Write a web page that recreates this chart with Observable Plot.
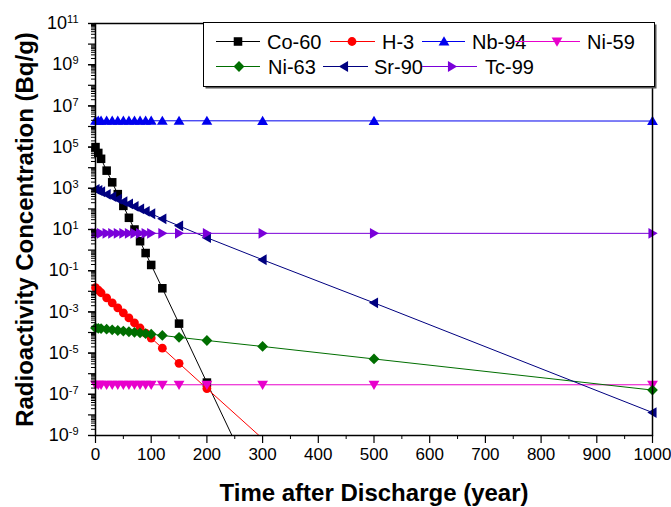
<!DOCTYPE html>
<html><head><meta charset="utf-8">
<script src="https://cdn.jsdelivr.net/npm/d3@7"></script>
<script src="https://cdn.jsdelivr.net/npm/@observablehq/plot@0.6"></script>
<style>
body{margin:0;background:#fff;}
#wrap{position:relative;width:671px;height:507px;}
#wrap svg{position:absolute;left:0;top:0;}
</style></head><body><div id="wrap"></div>
<script>
// ---- data ----
const years = [0,5,10,20,30,40,50,60,70,80,90,100,120,150,200,300,500,1000];
const co60 = [1e5,5.2e4,2.7e4,7.2e3,1.95e3,5.2e2,1.4e2,37,10,2.7,0.72,0.19,0.014,2.7e-4,3.7e-7,7.4e-13,null,null];
const h3   = [0.015,0.0113,0.0085,4.8e-3,2.75e-3,1.57e-3,9.0e-4,5.1e-4,2.9e-4,1.65e-4,9.4e-5,5.4e-5,1.74e-5,3.2e-6,1.9e-7,7.0e-10,null,null];
const nb94 = [1.9e6,1.9e6,1.9e6,1.9e6,1.9e6,1.9e6,1.9e6,1.9e6,1.9e6,1.9e6,1.9e6,1.9e6,1.89e6,1.89e6,1.89e6,1.88e6,1.87e6,1.84e6];
const ni59 = [2.9e-7,2.9e-7,2.9e-7,2.9e-7,2.9e-7,2.9e-7,2.9e-7,2.9e-7,2.9e-7,2.9e-7,2.9e-7,2.9e-7,2.9e-7,2.9e-7,2.9e-7,2.9e-7,2.9e-7,2.9e-7];
const ni63 = [1.65e-4,1.6e-4,1.55e-4,1.45e-4,1.35e-4,1.25e-4,1.17e-4,1.09e-4,1.02e-4,9.5e-5,8.9e-5,8.3e-5,7.2e-5,5.8e-5,4.1e-5,2.1e-5,5.2e-6,1.6e-7];
const sr90 = [890,780,680,510,390,295,224,174,132,100,76,58,33,15,4.0,0.34,2.75e-3,1.3e-8];
const tc99 = [6.5,6.5,6.5,6.5,6.5,6.5,6.5,6.5,6.5,6.5,6.5,6.5,6.5,6.5,6.5,6.5,6.5,6.5];
const seriesNames = ["Co-60","H-3","Nb-94","Ni-59","Ni-63","Sr-90","Tc-99"];
const seriesValues = [co60,h3,nb94,ni59,ni63,sr90,tc99];
const xTicks = [0,100,200,300,400,500,600,700,800,900,1000];
const xMinorTicks = [50,150,250,350,450,550,650,750,850,950];
const yLabelExps = [-9,-7,-5,-3,-1,1,3,5,7,9,11];

// ---- styles ----
const colors = ["#000000","#ff0000","#0000ee","#e800cc","#006e00","#000080","#7a00d9"];
function poly(pts){return {draw(ctx,size){const k=Math.sqrt(size/Math.PI);ctx.moveTo(pts[0][0]*k,pts[0][1]*k);for(let i=1;i<pts.length;i++)ctx.lineTo(pts[i][0]*k,pts[i][1]*k);ctx.closePath();}};}
const symSquare = {draw(ctx,size){const k=Math.sqrt(size/Math.PI)*0.95;ctx.rect(-k,-k,2*k,2*k);}};
const symCircle = {draw(ctx,size){const k=Math.sqrt(size/Math.PI)*0.98;ctx.moveTo(k,0);ctx.arc(0,0,k,0,2*Math.PI);}};
const symUp = poly([[0,-1.15],[1.2,0.9],[-1.2,0.9]]);
const symDown = poly([[0,1.15],[1.2,-0.9],[-1.2,-0.9]]);
const symLeft = poly([[-1.15,0],[0.9,-1.2],[0.9,1.2]]);
const symRight = poly([[1.15,0],[-0.9,-1.2],[-0.9,1.2]]);
const symDiamond = poly([[0,-1.2],[1.2,0],[0,1.2],[-1.2,0]]);
const symbols = [symSquare,symCircle,symUp,symDown,symDiamond,symLeft,symRight];
const R = 4.5;

const yDomain = [1e-9,1e11];
const data = seriesNames.map((name,si)=>years.map((t,i)=>({series:name,t,v:seriesValues[si][i]})).filter(d=>d.v!=null));

const decadeTicks = d3.range(-9,12).map(e=>Math.pow(10,e));
const minorTicks = [];
for(let e=-9;e<11;e++) for(let m=2;m<=9;m++) minorTicks.push(m*Math.pow(10,e));

const marks = [];
data.forEach((rows,si)=>{
  marks.push(Plot.line(rows,{x:"t",y:"v",stroke:colors[si],strokeWidth:1,clip:true}));
  marks.push(Plot.dot(rows.filter(d=>d.v>=yDomain[0]&&d.v<=yDomain[1]),{x:"t",y:"v",r:R,symbol:symbols[si],fill:colors[si],stroke:"none"}));
});

marks.push(
  Plot.axisY({ticks:minorTicks,tickSize:4,tickFormat:()=>"",label:null,strokeWidth:1}),
  Plot.axisY({ticks:decadeTicks,tickSize:7,tickFormat:()=>"",label:null,strokeWidth:1.2}),
  Plot.axisY({ticks:yLabelExps.map(e=>Math.pow(10,e)),tickSize:7,tickPadding:10,fontSize:18,
    tickFormat:d=>"10^"+Math.round(Math.log10(d)),label:null,strokeWidth:1.2}),
  Plot.axisX({ticks:xMinorTicks,tickSize:4,tickFormat:()=>"",label:null,strokeWidth:1}),
  Plot.axisX({ticks:xTicks,tickSize:8,tickPadding:4,fontSize:17,tickFormat:d=>String(d),label:null,strokeWidth:1.2}),
  Plot.frame({stroke:"black",strokeWidth:1.5}),
  Plot.text(["Radioactivity Concentration (Bq/g)"],{frameAnchor:"left",textAnchor:"middle",lineAnchor:"middle",dx:-70,rotate:-90,fontSize:24,fontWeight:"bold",fill:"black"}),
  Plot.text(["Time after Discharge (year)"],{frameAnchor:"bottom",textAnchor:"middle",lineAnchor:"middle",dy:58,fontSize:24,fontWeight:"bold",fill:"black"})
);

const chart = Plot.plot({
  width:671,height:507,
  marginLeft:95,marginRight:19,marginTop:23,marginBottom:72,
  x:{domain:[0,1000]},
  y:{type:"log",domain:yDomain},
  style:{fontFamily:"'Liberation Sans', Arial, sans-serif",color:"black",background:"white"},
  marks
});

// superscript exponents on y tick labels
const NS="http://www.w3.org/2000/svg";
for(const t of chart.querySelectorAll("text")){
  const m=/^10\^(-?\d+)$/.exec(t.textContent);
  if(!m) continue;
  t.textContent="";
  const a=document.createElementNS(NS,"tspan");a.textContent="10";
  const b=document.createElementNS(NS,"tspan");b.textContent=m[1];
  b.setAttribute("dy","-0.55em");b.setAttribute("font-size","11");
  t.append(a,b);
}
document.getElementById("wrap").appendChild(chart);

// legend overlay
const leg = d3.create("svg").attr("width",671).attr("height",507)
  .style("font-family","'Liberation Sans', Arial, sans-serif");
leg.append("rect").attr("x",205.5).attr("y",24.5).attr("width",451).attr("height",64).attr("fill","#555");
leg.append("rect").attr("x",203.5).attr("y",22.5).attr("width",451).attr("height",64).attr("fill","white").attr("stroke","black").attr("stroke-width",1);
const legItems = [
  {i:0,x1:216,x2:260,mx:238,tx:267,y:41.5},
  {i:1,x1:330,x2:375,mx:352,tx:382,y:41.5},
  {i:2,x1:422,x2:465,mx:444,tx:472,y:41.5},
  {i:3,x1:515,x2:580,mx:557,tx:587,y:41.5},
  {i:4,x1:216,x2:260,mx:239,tx:268,y:66.5},
  {i:5,x1:323,x2:368,mx:344,tx:374,y:66.5},
  {i:6,x1:422,x2:477,mx:452,tx:485,y:66.5}
];
for(const it of legItems){
  leg.append("line").attr("x1",it.x1).attr("x2",it.x2).attr("y1",it.y).attr("y2",it.y).attr("stroke",colors[it.i]).attr("stroke-width",1);
  leg.append("path").attr("d",d3.symbol(symbols[it.i],R*R*Math.PI)()).attr("transform",`translate(${it.mx},${it.y})`).attr("fill",colors[it.i]);
  leg.append("text").attr("x",it.tx).attr("y",it.y).attr("dy","0.35em").attr("font-size",20).attr("fill","black").text(seriesNames[it.i]);
}
document.getElementById("wrap").appendChild(leg.node());
</script></body></html>
